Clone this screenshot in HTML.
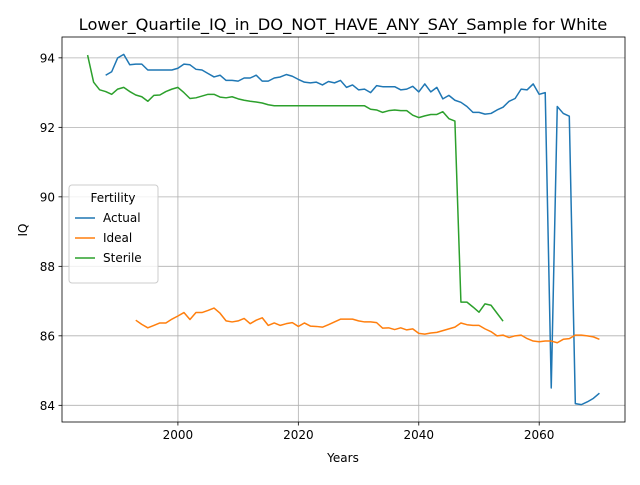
<!DOCTYPE html>
<html><head><meta charset="utf-8"><style>
body{margin:0;background:#fff;font-family:"Liberation Sans","DejaVu Sans",sans-serif}
</style></head><body>
<svg id="chart" width="640" height="480" xmlns="http://www.w3.org/2000/svg" font-family="DejaVu Sans, Liberation Sans, sans-serif">
<rect width="640" height="480" fill="#fff"/>
<text x="343" y="30" font-size="16.3" text-anchor="middle">Lower_Quartile_IQ_in_DO_NOT_HAVE_ANY_SAY_Sample for White</text>
<g id="grid"></g><g id="ticks"></g><g id="series"></g>
<rect x="62" y="37" width="563" height="385" fill="none" stroke="#000" stroke-width="0.8"/>
<text x="343" y="462" font-size="12" text-anchor="middle">Years</text>
<text x="27" y="230" font-size="12" text-anchor="middle" transform="rotate(-90 27 230)">IQ</text>
<g>
<rect x="69" y="185" width="89" height="98" fill="#fff" fill-opacity="0.8" stroke="#ccc" rx="3"/>
<text x="113" y="202" font-size="12" text-anchor="middle">Fertility</text>
<line x1="75" y1="218" x2="95" y2="218" stroke="#1f77b4" stroke-width="1.5"/><text x="103" y="222" font-size="12">Actual</text>
<line x1="75" y1="238" x2="95" y2="238" stroke="#ff7f0e" stroke-width="1.5"/><text x="103" y="242" font-size="12">Ideal</text>
<line x1="75" y1="258" x2="95" y2="258" stroke="#2ca02c" stroke-width="1.5"/><text x="103" y="262" font-size="12">Sterile</text>
</g>
</svg>
<script>
const xTicks=[2000,2020,2040,2060];
const yTicks=[84,86,88,90,92,94];
const actualStart=1988;
const actualValues=[93.5,93.6,94.0,94.1,93.8,93.82,93.82,93.65,93.65,93.65,93.65,93.65,93.7,93.82,93.8,93.67,93.65,93.55,93.45,93.5,93.35,93.35,93.33,93.42,93.42,93.5,93.33,93.33,93.42,93.45,93.52,93.47,93.38,93.3,93.28,93.3,93.22,93.32,93.28,93.35,93.15,93.22,93.08,93.1,93.0,93.2,93.17,93.17,93.17,93.08,93.1,93.18,93.02,93.25,93.02,93.15,92.82,92.92,92.78,92.72,92.6,92.43,92.43,92.38,92.4,92.5,92.58,92.75,92.83,93.1,93.08,93.25,92.95,93.0,84.5,92.6,92.4,92.32,84.05,84.02,84.1,84.2,84.35];
const idealStart=1993;
const idealValues=[86.45,86.33,86.23,86.3,86.37,86.37,86.48,86.57,86.67,86.47,86.67,86.67,86.73,86.8,86.65,86.43,86.4,86.43,86.5,86.35,86.45,86.52,86.3,86.37,86.3,86.35,86.38,86.27,86.37,86.28,86.27,86.25,86.32,86.4,86.48,86.48,86.48,86.43,86.4,86.4,86.38,86.22,86.23,86.18,86.23,86.17,86.2,86.07,86.05,86.08,86.1,86.15,86.2,86.25,86.37,86.32,86.3,86.3,86.2,86.12,86.0,86.02,85.95,86.0,86.02,85.92,85.85,85.83,85.85,85.85,85.8,85.9,85.92,86.02,86.02,86.0,85.97,85.9];
const sterileStart=1985;
const sterileValues=[94.08,93.3,93.08,93.03,92.95,93.1,93.15,93.03,92.93,92.88,92.75,92.92,92.93,93.03,93.1,93.15,93.0,92.83,92.85,92.9,92.95,92.95,92.87,92.85,92.88,92.82,92.78,92.75,92.73,92.7,92.65,92.62,92.62,92.62,92.62,92.62,92.62,92.62,92.62,92.62,92.62,92.62,92.62,92.62,92.62,92.62,92.62,92.52,92.5,92.43,92.48,92.5,92.48,92.48,92.35,92.28,92.33,92.37,92.37,92.45,92.25,92.18,86.97,86.97,86.83,86.68,86.92,86.88,86.65,86.42];

const L=62,R=625,T=37,B=422,X0=1980.75,X1=2074.25,Y0=83.52,Y1=94.6;
const xs=v=>L+(v-X0)/(X1-X0)*(R-L);
const ys=v=>B-(v-Y0)/(Y1-Y0)*(B-T);
const NS="http://www.w3.org/2000/svg";
function mk(tag,attrs,parent){const e=document.createElementNS(NS,tag);for(const k in attrs)e.setAttribute(k,attrs[k]);document.getElementById(parent).appendChild(e);return e;}
xTicks.forEach(t=>{
  const g=mk('line',{x1:xs(t),x2:xs(t),y1:T,y2:B,stroke:'#b0b0b0','stroke-width':0.8},'grid');
  
  
  mk('line',{x1:xs(t),x2:xs(t),y1:B,y2:B+3.5,stroke:'#000','stroke-width':0.8},'ticks');
  const tx=mk('text',{x:xs(t),y:B+17,'font-size':12,'text-anchor':'middle'},'ticks');
  tx.textContent=t;
  
  
});
yTicks.forEach(t=>{
  const g=mk('line',{x1:L,x2:R,y1:ys(t),y2:ys(t),stroke:'#b0b0b0','stroke-width':0.8},'grid');
  
  
  mk('line',{x1:L-3.5,x2:L,y1:ys(t),y2:ys(t),stroke:'#000','stroke-width':0.8},'ticks');
  const tx=mk('text',{x:L-7,y:ys(t)+4.5,'font-size':12,'text-anchor':'end'},'ticks');
  tx.textContent=t;
  
  
});
function line(start,vals,color,name){
  const d=vals.map((v,i)=>(i?'L':'M')+xs(start+i).toFixed(2)+' '+ys(v).toFixed(2)).join(' ');
  const p=mk('path',{d:d,fill:'none',stroke:color,'stroke-width':1.5,'stroke-linejoin':'round'},'series');
  
  
}
line(actualStart,actualValues,'#1f77b4','actual-line');
line(idealStart,idealValues,'#ff7f0e','ideal-line');
line(sterileStart,sterileValues,'#2ca02c','sterile-line');
</script>
</body></html>
